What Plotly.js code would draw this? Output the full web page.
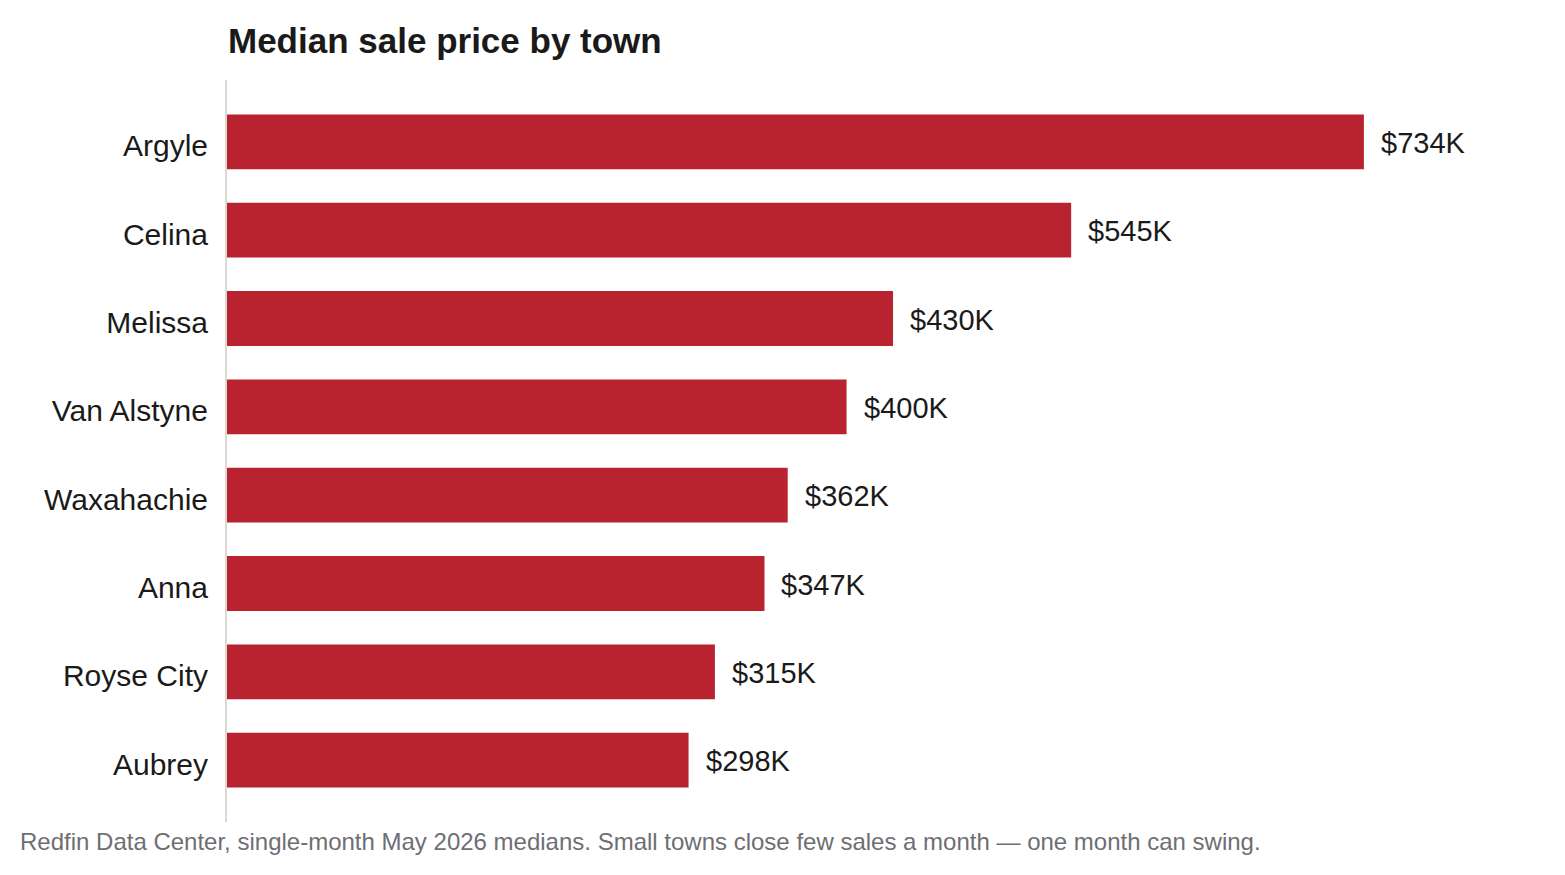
<!DOCTYPE html>
<html>
<head>
<meta charset="utf-8">
<script src="https://cdn.plot.ly/plotly-3.0.1.min.js"></script>
<style>
  html, body { margin: 0; padding: 0; background: #fff; }
  #chart { width: 1565px; height: 875px; }
</style>
</head>
<body>
<div id="chart"></div>
<script>
// Median sale price, thousands of dollars
const towns  = ["Argyle", "Celina", "Melissa", "Van Alstyne", "Waxahachie", "Anna", "Royse City", "Aubrey"];
const prices = [734, 545, 430, 400, 362, 347, 315, 298];

const FONT = "Liberation Sans, Arial, Helvetica, sans-serif";
const BAR_RED = "#b8232f";

const trace = {
  type: "bar",
  orientation: "h",
  x: prices,
  y: towns,
  width: 0.62,
  marker: { color: BAR_RED, line: { width: 0 } },
  hoverinfo: "skip",
};

// value labels to the right of each bar
const valueLabels = towns.map((t, i) => ({
  x: prices[i], y: t, xref: "x", yref: "y",
  xanchor: "left", yanchor: "middle", xshift: 15, yshift: -1,
  text: `$${prices[i]}K`,
  showarrow: false,
  font: { family: FONT, size: 29, color: "#1a1a1a" },
}));

const layout = {
  width: 1565, height: 875,
  paper_bgcolor: "#fff", plot_bgcolor: "#fff",
  margin: { l: 227, r: 40, t: 80, b: 53 },
  font: { family: FONT, color: "#1a1a1a" },
  showlegend: false,
  title: {
    text: "<b>Median sale price by town</b>",
    font: { family: FONT, size: 35, color: "#1a1a1a" },
    x: 228 / 1565, xref: "container", xanchor: "left",
    y: 1 - 41 / 875, yref: "container", yanchor: "middle",
  },
  xaxis: {
    range: [0, 838],
    showgrid: false, zeroline: false, showline: false,
    showticklabels: false, ticks: "",
    fixedrange: true,
  },
  yaxis: {
    type: "category",
    range: [7.7, -0.7],
    showgrid: false, zeroline: false,
    showline: true, linecolor: "#dcd9d2", linewidth: 2,
    ticks: "", ticklabelstandoff: 11, ticklabelshift: -4,
    tickfont: { family: FONT, size: 30, color: "#1a1a1a" },
    fixedrange: true,
  },
  annotations: [
    ...valueLabels,
    {
      xref: "paper", yref: "paper",
      x: (18 - 227) / 1298, y: -19 / 742,
      xanchor: "left", yanchor: "middle",
      text: "Redfin Data Center, single-month May 2026 medians. Small towns close few sales a month \u2014 one month can swing.",
      showarrow: false,
      font: { family: FONT, size: 24, color: "#6e6e73" },
    },
  ],
};

Plotly.newPlot("chart", [trace], layout, { displayModeBar: false, staticPlot: true });
</script>
</body>
</html>
